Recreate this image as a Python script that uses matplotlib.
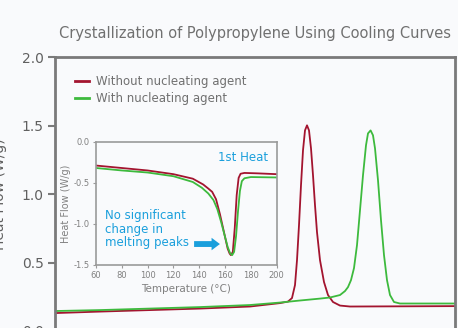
import matplotlib
matplotlib.use('Agg')
import matplotlib.pyplot as plt

# main cooling curves (x in deg C, axis hidden below the crop)
cool_t_without = [50, 61.25, 73.75, 86.25, 98.75, 106.25, 108.25, 109.25, 110, 110.5, 111, 111.5, 112,
                  112.5, 113, 113.5, 114, 114.5, 115, 115.5, 116.25, 117.25, 118.25, 119.5, 121.25, 123.75, 150]
cool_hf_without = [0.131, 0.142, 0.153, 0.164, 0.179, 0.204, 0.215, 0.241, 0.336, 0.518, 0.774, 1.066, 1.321,
                   1.467, 1.504, 1.467, 1.336, 1.139, 0.920, 0.723, 0.518, 0.358, 0.263, 0.212, 0.186, 0.179, 0.182]

cool_t_with = [50, 61.25, 73.75, 86.25, 98.75, 106.25, 111.25, 116.25, 118.75, 121.25, 122.5, 123.25, 124,
               124.75, 125.5, 126.25, 127, 127.75, 128.25, 128.9, 129.5, 130, 130.75, 131.5, 132.25, 133,
               133.75, 134.75, 136.25, 150]
cool_hf_with = [0.146, 0.153, 0.164, 0.175, 0.190, 0.208, 0.223, 0.237, 0.245, 0.263, 0.292, 0.321, 0.372,
                0.460, 0.628, 0.883, 1.139, 1.358, 1.445, 1.467, 1.431, 1.336, 1.102, 0.810, 0.555, 0.372,
                0.263, 0.212, 0.201, 0.201]

# inset: 1st heat
heat_t_without = [60, 80, 100, 120, 135, 143, 147, 150, 153, 156, 158, 160, 162, 163.5, 164.5, 166, 167.5,
                  169, 170.5, 172, 175, 185, 200]
heat_hf_without = [-0.29, -0.32, -0.35, -0.395, -0.45, -0.52, -0.57, -0.61, -0.70, -0.88, -1.02, -1.16,
                   -1.30, -1.36, -1.38, -1.34, -1.05, -0.65, -0.44, -0.39, -0.38, -0.385, -0.395]

heat_t_with = [60, 80, 100, 120, 135, 142, 147, 151, 154, 157, 160, 162, 164, 165.5, 167, 168.5, 170, 171.5,
               173, 175, 180, 200]
heat_hf_with = [-0.32, -0.35, -0.375, -0.42, -0.49, -0.56, -0.63, -0.71, -0.82, -0.98, -1.16, -1.28, -1.36,
                -1.38, -1.34, -1.15, -0.85, -0.60, -0.48, -0.445, -0.43, -0.435]

main_yticks = [0.0, 0.5, 1.0, 1.5, 2.0]
inset_xticks = [60, 80, 100, 120, 140, 160, 180, 200]
inset_yticks = [0.0, -0.5, -1.0, -1.5]

red = '#a3142f'
green = '#3dba3d'
blue = '#1a9fdc'
gray = '#7a7a7a'
bg = '#f9fafc'

fig = plt.figure(figsize=(4.58, 3.28), dpi=100, facecolor=bg)

ax = fig.add_axes([55/458, 1 - 331/328, 400/458, (331 - 57.5)/328], facecolor=bg)
ax.plot(cool_t_without, cool_hf_without, color=red, lw=1.3, label='Without nucleating agent')
ax.plot(cool_t_with, cool_hf_with, color=green, lw=1.3, label='With nucleating agent')
ax.set_xlim(50, 150)
ax.set_ylim(0, 2.0)
ax.set_yticks(main_yticks)
ax.set_yticklabels(['%.1f' % v for v in main_yticks])
ax.set_xticks([])
for s in ax.spines.values():
  s.set_color(gray)
  s.set_linewidth(2)
ax.tick_params(axis='y', colors=gray, labelcolor='#606060', length=5, width=1.5, labelsize=10, pad=3)
ax.set_ylabel('Heat Flow (W/g)', color='#606060', fontsize=10, labelpad=11)
ax.set_title('Crystallization of Polypropylene Using Cooling Curves', color='#707070', fontsize=10.5, pad=14)
leg = ax.legend(loc='upper left', frameon=False, fontsize=8.5, handlelength=1.2, handletextpad=0.6,
                borderaxespad=0.6, labelspacing=0.35, bbox_to_anchor=(0.02, 0.98))
for t in leg.get_texts():
  t.set_color('#707070')
for h in leg.get_lines():
  h.set_linewidth(2)

ins = fig.add_axes([96/458, 1 - 265/328, 180.7/458, 123.3/328], facecolor=bg)
ins.plot(heat_t_without, heat_hf_without, color=red, lw=1.3)
ins.plot(heat_t_with, heat_hf_with, color=green, lw=1.3)
ins.set_xlim(60, 200)
ins.set_ylim(-1.5, 0)
ins.set_xticks(inset_xticks)
ins.set_yticks(inset_yticks)
ins.set_yticklabels(['%.1f' % v for v in inset_yticks])
for s in ins.spines.values():
  s.set_color('#9a9a9a')
  s.set_linewidth(1.2)
ins.tick_params(colors='#9a9a9a', labelcolor='#808080', length=2.5, width=0.8, labelsize=6, pad=2)
ins.set_xlabel('Temperature (°C)', color='#808080', fontsize=7.5, labelpad=3)
ins.set_ylabel('Heat Flow (W/g)', color='#808080', fontsize=7, labelpad=2)
ins.text(0.95, 0.87, '1st Heat', transform=ins.transAxes, color=blue, fontsize=8.5, ha='right', va='center')
ins.text(0.05, 0.29, 'No significant\nchange in\nmelting peaks', transform=ins.transAxes, color=blue,
         fontsize=8.5, ha='left', va='center', linespacing=1.05)
ins.annotate('', xy=(156, -1.245), xytext=(136, -1.245),
             arrowprops=dict(arrowstyle='simple,head_length=0.5,head_width=0.75,tail_width=0.35',
                             color=blue, lw=0, mutation_scale=12, shrinkA=0, shrinkB=0))

fig.savefig('out.png', dpi=100, facecolor=bg)
